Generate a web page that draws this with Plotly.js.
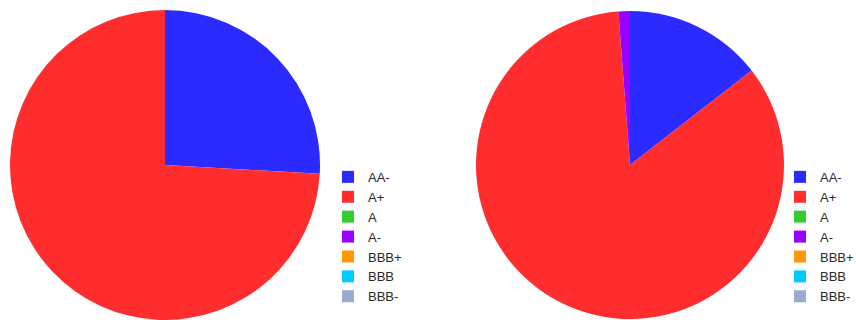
<!DOCTYPE html>
<html><head><meta charset="utf-8">
<script src="https://cdn.plot.ly/plotly-3.0.1.min.js"></script>
<style>html,body{margin:0;padding:0;background:#fff}#chart{width:856px;height:320px}</style>
</head><body><div id="chart"></div>
<script>
const labels = ["AA-", "A+", "A", "A-", "BBB+", "BBB", "BBB-"];
const leftValues = [25.9, 74.1, 0, 0, 0, 0, 0];
const rightValues = [14.5, 84.3, 0, 1.2, 0, 0, 0];
const colors = ["#2b2bff", "#ff2d2d", "#33cc33", "#9900ff", "#ff9900", "#00ccff", "#99aacc"];

// second pie gets its own legend entries (same visible text)
const rightLabels = labels.map(l => l + "\u200b");

const common = {
  type: "pie", sort: false, direction: "clockwise", rotation: 0,
  marker: {colors: colors, line: {width: 0}},
  textinfo: "none", hoverinfo: "label+percent", showlegend: true
};
const data = [
  Object.assign({}, common, {labels: labels, values: leftValues, domain: {x: [10/856, 320/856], y: [0, 310/320]}, legend: "legend"}),
  Object.assign({}, common, {labels: rightLabels, values: rightValues, domain: {x: [476/856, 784/856], y: [0, 310/320]}, legend: "legend2"})
];
const legFont = {family: "Liberation Sans, Arial, sans-serif", size: 13, color: "#2a2a2a"};
const layout = {
  width: 856, height: 320, margin: {l: 0, r: 0, t: 0, b: 0, autoexpand: false},
  paper_bgcolor: "#fff", plot_bgcolor: "#fff",
  legend: {x: 328/856, y: 0.494, xanchor: "left", yanchor: "top", font: legFont, bgcolor: "rgba(0,0,0,0)"},
  legend2: {x: 780/856, y: 0.494, xanchor: "left", yanchor: "top", font: legFont, bgcolor: "rgba(0,0,0,0)"}
};
Plotly.newPlot("chart", data, layout, {displayModeBar: false, staticPlot: true});
</script></body></html>
